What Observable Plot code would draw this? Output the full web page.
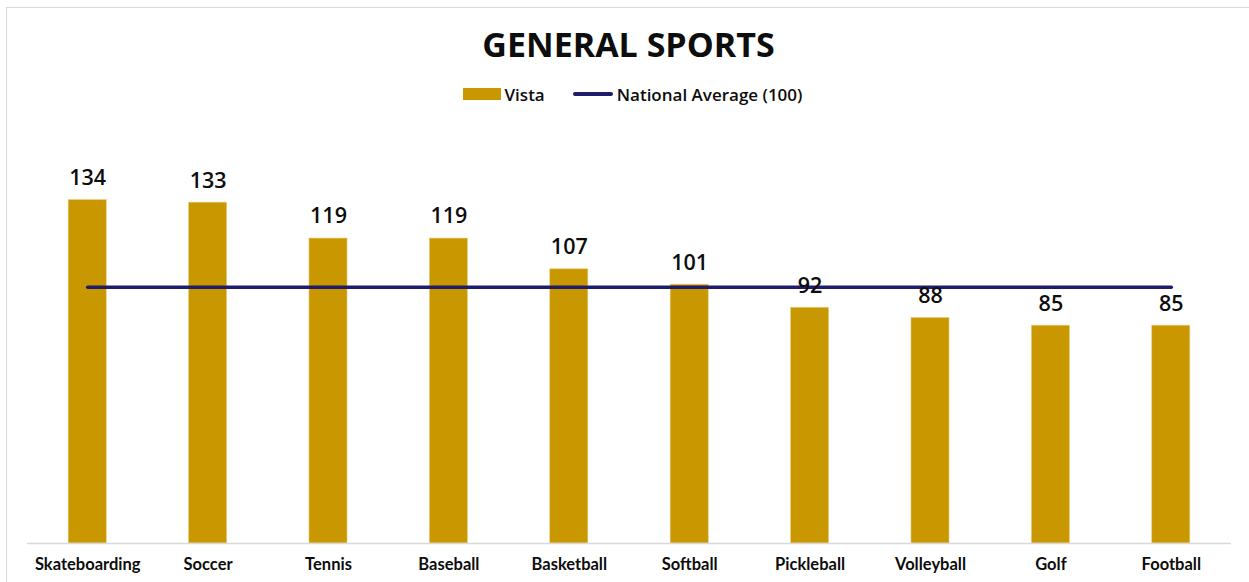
<!DOCTYPE html>
<html>
<head>
<meta charset="utf-8">
<script src="https://cdn.jsdelivr.net/npm/d3@7"></script>
<script src="https://cdn.jsdelivr.net/npm/@observablehq/plot@0.6"></script>
<style>
  html, body { margin: 0; padding: 0; background: #fff; width: 1249px; height: 582px; overflow: hidden; }
  .frame { position: absolute; left: 6px; top: 7px; width: 1300px; height: 640px; border: 1.5px solid #d9d9d9; box-sizing: border-box; }
  #wrap { position: absolute; left: 0; top: 0; width: 1249px; }
  .title { margin-top: 24px; height: 40px; line-height: 40px; text-align: center; font-family: "Open Sans", sans-serif; font-weight: 700; font-size: 34px; color: #0d0d0d; padding-left: 8px; letter-spacing: 0px; }
  .legend { margin-top: 20px; height: 20px; margin-bottom: 16px; display: flex; justify-content: center; align-items: center; font-family: "Open Sans", sans-serif; font-weight: 600; font-size: 17px; color: #0d0d0d; padding-left: 16px; }
  .sw { display: inline-block; width: 38px; height: 12px; background: #c99700; margin-right: 4px; }
  .ln { display: inline-block; width: 40px; height: 3.5px; border-radius: 2px; background: #1f1c6b; margin-right: 4px; margin-left: 28px; }
  svg { display: block; }
</style>
</head>
<body>
<div class="frame"></div>
<div id="wrap">
  <div class="title">GENERAL SPORTS</div>
  <div class="legend"><span class="sw"></span><span>Vista</span><span class="ln"></span><span>National Average (100)</span></div>
  <div id="chart"></div>
</div>
<script>
const categories = ["Skateboarding", "Soccer", "Tennis", "Baseball", "Basketball", "Softball", "Pickleball", "Volleyball", "Golf", "Football"];
const vista = [134, 133, 119, 119, 107, 101, 92, 88, 85, 85];
const nationalAverage = 100;

const data = categories.map((c, i) => ({category: c, value: vista[i], avg: nationalAverage}));

const chart = Plot.plot({
  width: 1249,
  height: 462,
  marginLeft: 27,
  marginRight: 18,
  marginTop: 13,
  marginBottom: 39,
  style: {background: "transparent"},
  x: {domain: categories, paddingInner: 0.684, paddingOuter: 0.342, round: false, label: null},
  y: {domain: [0, 160], axis: null},
  marks: [
    Plot.barY(data, {x: "category", y: "value", fill: "#c99700", stroke: "#e8cc7a", strokeWidth: 0.6}),
    Plot.ruleY([0], {stroke: "#d9d9d9", strokeWidth: 1.5}),
    Plot.lineY(data, {x: "category", y: "avg", stroke: "#1f1c6b", strokeWidth: 3.5, strokeLinecap: "round"}),
    Plot.text(data, {x: "category", y: "value", text: d => String(d.value), dy: -22, fontSize: 21.5, fontWeight: 600, fill: "#0d0d0d", fontFamily: "Open Sans"}),
    Plot.axisX({tickSize: 0, tickPadding: 15, fontSize: 16.5, fontWeight: 700, fontFamily: "Lato", color: "#0d0d0d", label: null})
  ]
});
document.getElementById("chart").appendChild(chart);
</script>
</body>
</html>
